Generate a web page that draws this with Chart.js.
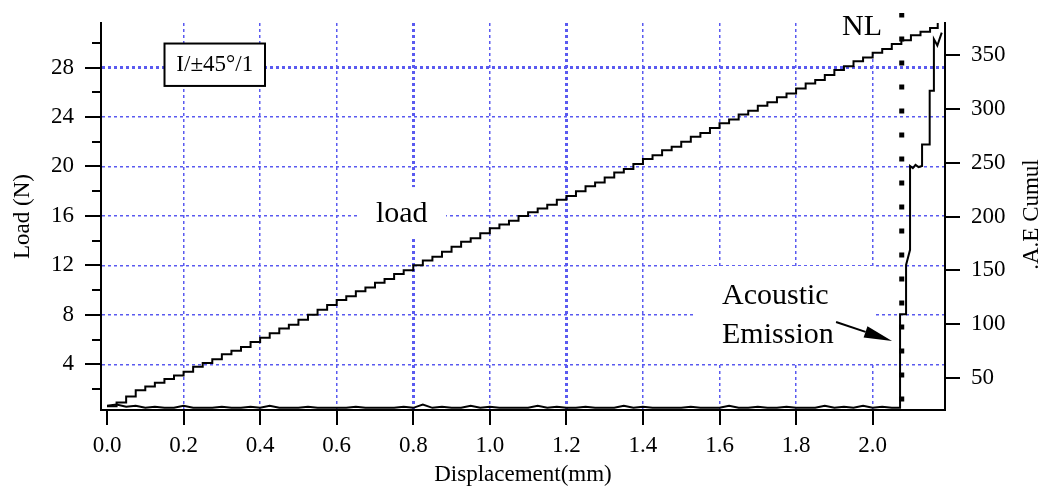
<!DOCTYPE html>
<html>
<head>
<meta charset="utf-8">
<script src="https://cdn.jsdelivr.net/npm/chart.js@4.4.1/dist/chart.umd.min.js"></script>
<style>
  html, body { margin: 0; padding: 0; background: #fff; }
  #wrap { width: 1044px; height: 489px; }
</style>
</head>
<body>
<div id="wrap"><canvas id="c" width="1044" height="489"></canvas></div>
<script>
// displacement (mm) / load (N)
const loadX = [
  0.000, 0.025, 0.050, 0.075, 0.100, 0.125, 0.150, 0.175, 0.200, 0.225,
  0.250, 0.275, 0.300, 0.325, 0.350, 0.375, 0.400, 0.425, 0.450, 0.475,
  0.500, 0.525, 0.550, 0.575, 0.600, 0.625, 0.650, 0.675, 0.700, 0.725,
  0.750, 0.775, 0.800, 0.825, 0.850, 0.875, 0.900, 0.925, 0.950, 0.975,
  1.000, 1.025, 1.050, 1.075, 1.100, 1.125, 1.150, 1.175, 1.200, 1.225,
  1.250, 1.275, 1.300, 1.325, 1.350, 1.375, 1.400, 1.425, 1.450, 1.475,
  1.500, 1.525, 1.550, 1.575, 1.600, 1.625, 1.650, 1.675, 1.700, 1.725,
  1.750, 1.775, 1.800, 1.825, 1.850, 1.875, 1.900, 1.925, 1.950, 1.975,
  2.000, 2.025, 2.050, 2.075, 2.100, 2.125, 2.150, 2.170
];
const loadY = [
  0.6, 0.9, 1.4, 1.9, 2.2, 2.5, 2.8, 3.1, 3.4, 3.8,
  4.1, 4.4, 4.8, 5.1, 5.4, 5.8, 6.15, 6.5, 6.9, 7.2,
  7.6, 8.0, 8.4, 8.8, 9.2, 9.5, 9.9, 10.2, 10.6, 10.9,
  11.3, 11.6, 12.0, 12.4, 12.7, 13.1, 13.5, 13.9, 14.2, 14.6,
  15.0, 15.3, 15.6, 16.0, 16.3, 16.6, 16.9, 17.3, 17.6, 18.0,
  18.4, 18.7, 19.1, 19.5, 19.8, 20.2, 20.6, 20.9, 21.3, 21.6,
  22.0, 22.4, 22.7, 23.1, 23.5, 23.8, 24.2, 24.5, 24.9, 25.2,
  25.6, 25.9, 26.3, 26.7, 27.0, 27.4, 27.8, 28.1, 28.5, 28.8,
  29.2, 29.5, 29.9, 30.2, 30.6, 30.9, 31.2, 31.6
];

// cumulated acoustic emission (right axis)
const aeX = [
  0.000, 0.025, 0.050, 0.075, 0.100, 0.125, 0.150, 0.175, 0.200, 0.225,
  0.250, 0.275, 0.300, 0.325, 0.350, 0.375, 0.400, 0.425, 0.450, 0.475,
  0.500, 0.525, 0.550, 0.575, 0.600, 0.625, 0.650, 0.675, 0.700, 0.725,
  0.750, 0.775, 0.800, 0.825, 0.850, 0.875, 0.900, 0.925, 0.950, 0.975,
  1.000, 1.025, 1.050, 1.075, 1.100, 1.125, 1.150, 1.175, 1.200, 1.225,
  1.250, 1.275, 1.300, 1.325, 1.350, 1.375, 1.400, 1.425, 1.450, 1.475,
  1.500, 1.525, 1.550, 1.575, 1.600, 1.625, 1.650, 1.675, 1.700, 1.725,
  1.750, 1.775, 1.800, 1.825, 1.850, 1.875, 1.900, 1.925, 1.950, 1.975,
  2.000, 2.025, 2.050,
  2.0716, 2.0716, 2.0873, 2.0873, 2.0977, 2.0977, 2.105, 2.112, 2.120, 2.1291,
  2.1291, 2.149, 2.149, 2.160, 2.160, 2.169, 2.1805
];
const aeY = [
  24, 25, 23, 24, 22, 23, 22, 22, 24, 22,
  22, 22, 23, 22, 22, 23, 22, 24, 22, 22,
  22, 23, 22, 22, 22, 22, 23, 22, 22, 22,
  22, 23, 22, 25, 22, 23, 22, 22, 24, 22,
  23, 22, 22, 22, 22, 24, 22, 23, 22, 22,
  23, 22, 22, 22, 24, 22, 23, 22, 22, 22,
  22, 23, 22, 22, 22, 24, 22, 22, 23, 22,
  22, 23, 22, 22, 22, 24, 22, 23, 22, 24,
  22, 23, 22,
  22, 109, 109, 155, 169, 247, 245, 248, 246, 247,
  267, 267, 317, 317, 365, 359, 371
];

// non-linearity onset (dotted marker) : displacement and load span
const nlX = 2.076;
const nlSpan = [0.99, 32.4];

const xTicksThick = [0.8, 1.2];
const yTicksThick = [28];
const gridBlue = '#5a5af0';
const serif = "'Liberation Serif', 'Times New Roman', serif";

function near(list, v) {
  return list.some(t => Math.abs(t - v) < 1e-6);
}

// keep the plot box fixed: no extra padding from tick labels
function fixWidth(w) {
  return s => { s.width = w; s.paddingTop = 0; s.paddingBottom = 0; };
}

// tick marks drawn by hand: majors outside, plus minor ticks on the load axis
const axisTicks = {
  id: 'axisTicks',
  afterDraw(chart) {
    const { ctx, chartArea, scales } = chart;
    ctx.save();
    ctx.strokeStyle = '#000';
    ctx.lineWidth = 2;
    ctx.beginPath();
    scales.y.ticks.forEach(t => {
      const py = Math.round(scales.y.getPixelForValue(t.value));
      ctx.moveTo(chartArea.left - 16, py);
      ctx.lineTo(chartArea.left, py);
    });
    for (let v = 2; v < scales.y.max; v += 4) {
      const py = Math.round(scales.y.getPixelForValue(v));
      ctx.moveTo(chartArea.left - 9, py);
      ctx.lineTo(chartArea.left, py);
    }
    scales.y2.ticks.forEach(t => {
      const py = Math.round(scales.y2.getPixelForValue(t.value));
      ctx.moveTo(chartArea.right, py);
      ctx.lineTo(chartArea.right + 15, py);
    });
    scales.x.ticks.forEach(t => {
      const px = Math.round(scales.x.getPixelForValue(t.value));
      ctx.moveTo(px, chartArea.bottom);
      ctx.lineTo(px, chartArea.bottom + 15);
    });
    ctx.stroke();

    // right axis title reads bottom to top
    ctx.fillStyle = '#000';
    ctx.font = '23px ' + serif;
    ctx.textAlign = 'center';
    ctx.textBaseline = 'middle';
    ctx.translate(chartArea.right + 87, (chartArea.top + chartArea.bottom) / 2 - 2);
    ctx.rotate(-Math.PI / 2);
    ctx.fillText('.A.E Cumul', 0, 0);
    ctx.restore();
  }
};

// text annotations, in data units (x in mm, y in N)
const clearBoxes = [
  [0.6531, 0.8856, 18.33, 14.13],
  [1.9044, 2.0455, 32.33, 29.41],
  [1.5361, 2.0063, 11.95, 4.10]
];
const notes = {
  id: 'notes',
  beforeDatasetsDraw(chart) {
    const { ctx, scales: { x, y } } = chart;
    ctx.save();
    ctx.fillStyle = '#fff';
    clearBoxes.forEach(b => {
      const l = x.getPixelForValue(b[0]), r = x.getPixelForValue(b[1]);
      const t = y.getPixelForValue(b[2]), bt = y.getPixelForValue(b[3]);
      ctx.fillRect(l, t, r - l, bt - t);
    });
    ctx.restore();
  },
  afterDatasetsDraw(chart) {
    const { ctx, scales: { x, y } } = chart;
    ctx.save();
    ctx.fillStyle = '#000';
    ctx.strokeStyle = '#000';

    // specimen box
    const bl = x.getPixelForValue(0.1502), br = x.getPixelForValue(0.4127);
    const bt = y.getPixelForValue(29.94), bb = y.getPixelForValue(26.51);
    ctx.fillStyle = '#fff';
    ctx.fillRect(bl, bt, br - bl, bb - bt);
    ctx.lineWidth = 2;
    ctx.strokeRect(bl, bt, br - bl, bb - bt);
    ctx.fillStyle = '#000';
    ctx.font = '23px ' + serif;
    ctx.textAlign = 'center';
    ctx.textBaseline = 'middle';
    ctx.fillText('I/\u00b145\u00b0/1', (bl + br) / 2, (bt + bb) / 2);

    ctx.font = '30px ' + serif;
    ctx.fillText('load', x.getPixelForValue(0.7698), y.getPixelForValue(16.15));
    ctx.fillText('NL', x.getPixelForValue(1.9723), y.getPixelForValue(31.27));

    ctx.textAlign = 'left';
    ctx.textBaseline = 'alphabetic';
    ctx.fillText('Acoustic', x.getPixelForValue(1.6066), y.getPixelForValue(8.87));
    ctx.fillText('Emission', x.getPixelForValue(1.6066), y.getPixelForValue(5.72));

    // arrow towards the AE jump
    const x0 = x.getPixelForValue(1.9044), y0 = y.getPixelForValue(7.42);
    const x1 = x.getPixelForValue(2.0507), y1 = y.getPixelForValue(5.89);
    const ang = Math.atan2(y1 - y0, x1 - x0);
    const hl = 28, hw = 6;
    const bx = x1 - hl * Math.cos(ang), by = y1 - hl * Math.sin(ang);
    ctx.lineWidth = 2;
    ctx.beginPath();
    ctx.moveTo(x0, y0);
    ctx.lineTo(bx, by);
    ctx.stroke();
    ctx.beginPath();
    ctx.moveTo(x1, y1);
    ctx.lineTo(bx + hw * Math.sin(ang), by - hw * Math.cos(ang));
    ctx.lineTo(bx - hw * Math.sin(ang), by + hw * Math.cos(ang));
    ctx.closePath();
    ctx.fill();
    ctx.restore();
  }
};

const tickFont = { family: serif, size: 23 };

new Chart(document.getElementById('c'), {
  type: 'line',
  data: {
    datasets: [
      {
        label: 'load',
        data: loadX.map((v, i) => ({ x: v, y: loadY[i] })),
        yAxisID: 'y',
        borderColor: '#000',
        borderWidth: 2,
        pointRadius: 0,
        stepped: true,
        fill: false
      },
      {
        label: 'AE',
        data: aeX.map((v, i) => ({ x: v, y: aeY[i] })),
        yAxisID: 'y2',
        borderColor: '#000',
        borderWidth: 2,
        pointRadius: 0,
        tension: 0,
        fill: false
      },
      {
        label: 'NL',
        data: [{ x: nlX, y: nlSpan[0] }, { x: nlX, y: nlSpan[1] }],
        yAxisID: 'y',
        borderColor: '#000',
        borderWidth: 5,
        borderDash: [5, 19],
        borderCapStyle: 'butt',
        pointRadius: 0,
        clip: false,
        fill: false
      }
    ]
  },
  options: {
    responsive: false,
    animation: false,
    devicePixelRatio: 1,
    layout: { padding: { top: 23, left: 0, right: 0, bottom: 0 } },
    plugins: { legend: { display: false }, tooltip: { enabled: false } },
    scales: {
      x: {
        type: 'linear',
        min: -0.0157,
        max: 2.189,
        afterFit: s => { s.height = 79; },
        ticks: {
          stepSize: 0.2,
          includeBounds: false,
          autoSkip: false,
          maxRotation: 0,
          padding: 22,
          color: '#000',
          font: tickFont,
          callback: v => v.toFixed(1)
        },
        grid: {
          drawTicks: false,
          color: c => (c.tick && Math.abs(c.tick.value) < 1e-6) ? 'rgba(0,0,0,0)' : gridBlue,
          lineWidth: c => (c.tick && near(xTicksThick, c.tick.value)) ? 3 : 1.5
        },
        border: { display: true, color: '#000', width: 2, dash: [3, 3] },
        title: {
          display: true,
          text: 'Displacement(mm)',
          color: '#000',
          font: tickFont,
          padding: { top: 0, bottom: 0 }
        }
      },
      y: {
        position: 'left',
        min: 0.3,
        max: 31.6,
        afterFit: fixWidth(101),
        ticks: {
          stepSize: 4,
          includeBounds: false,
          autoSkip: false,
          padding: 27,
          color: '#000',
          font: tickFont
        },
        grid: {
          drawTicks: false,
          color: gridBlue,
          lineWidth: c => (c.tick && near(yTicksThick, c.tick.value)) ? 3 : 1.5
        },
        border: { display: true, color: '#000', width: 2, dash: [3, 3] },
        title: {
          display: true,
          text: 'Load (N)',
          color: '#000',
          font: tickFont,
          padding: { top: 9, bottom: 0 }
        }
      },
      y2: {
        position: 'right',
        min: 20,
        max: 380,
        afterFit: fixWidth(99),
        ticks: {
          stepSize: 50,
          includeBounds: false,
          autoSkip: false,
          padding: 26,
          color: '#000',
          font: tickFont
        },
        grid: { display: false, drawOnChartArea: false, drawTicks: false },
        border: { display: true, color: '#000', width: 2 }
      }
    }
  },
  plugins: [notes, axisTicks]
});
</script>
</body>
</html>
